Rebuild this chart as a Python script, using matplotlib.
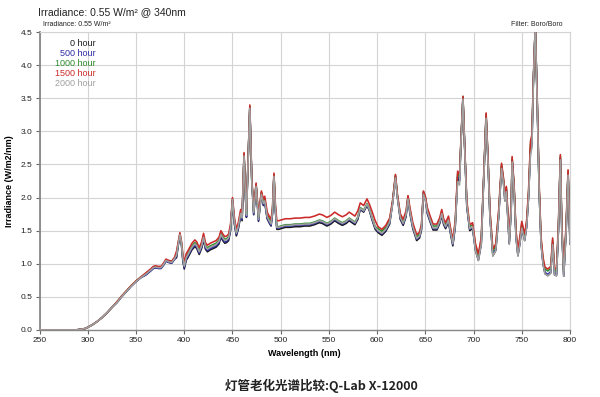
import matplotlib
matplotlib.use("Agg")
import matplotlib.pyplot as plt
import numpy as np

wavelength = [250, 260, 270, 280, 288, 293, 297, 300, 305, 310, 315, 320, 325,
              330, 335, 340, 345, 350, 355,
              360, 365, 368, 370, 373, 376, 379, 381, 384, 387, 390,
              392, 394, 395.5, 397, 398.5, 400, 402, 404, 408, 411, 413, 415.5, 418, 420, 422, 424, 427, 430,
              433, 436, 438, 440, 442, 444, 446, 448, 450, 452, 454, 456, 458.5, 460,
              462, 463.5, 464.5, 466, 468, 470, 472, 474.5, 477, 480, 482, 483.5, 486, 488, 490, 491.5, 493, 494.5,
              496, 498, 500, 505, 510, 515, 520, 525, 530, 535, 540, 543, 548, 552, 556, 560, 564, 568, 571, 574,
              577, 580, 582.5, 586, 589.5, 592, 595, 598,
              601, 605, 609, 613, 616, 619, 621, 624, 627, 630, 632, 634, 637, 641, 644, 646, 648, 650, 652, 655,
              658, 662, 665, 667, 669, 671, 674, 676, 678.5, 681, 683.5, 685.5, 687, 689, 691, 693, 696, 699,
              702, 705, 708, 711, 713, 715, 717, 720, 723, 726, 729, 731, 732.5, 734, 735.5, 737, 739, 740, 742,
              744, 746, 748, 750, 753, 755, 757, 759, 760.5, 762, 764, 766, 768, 770, 772, 774, 777, 780, 782,
              784, 786, 788, 790, 791.5, 793.5, 796, 798, 799, 800]

hour_1500 = [0, 0, 0, 0, 0, 0.01, 0.02, 0.04, 0.08, 0.13, 0.19, 0.26, 0.34,
             0.42, 0.51, 0.59, 0.67, 0.74, 0.80,
             0.86, 0.92, 0.96, 0.97, 0.96, 0.96, 1.02, 1.07, 1.05, 1.04, 1.10,
             1.19, 1.35, 1.47, 1.35, 1.15, 1.02, 1.15, 1.20, 1.31, 1.36, 1.33, 1.24, 1.33, 1.46, 1.32, 1.28, 1.31, 1.33,
             1.35, 1.40, 1.50, 1.45, 1.41, 1.42, 1.45, 1.60, 2.00, 1.70, 1.52, 1.62, 1.82, 1.75,
             2.68, 2.10, 1.80, 2.50, 3.40, 2.30, 1.84, 2.22, 1.74, 2.10, 1.98, 2.02, 1.78, 1.72, 1.67, 1.85, 2.37, 1.90,
             1.65, 1.65, 1.66, 1.68, 1.68, 1.69, 1.69, 1.70, 1.70, 1.72, 1.75, 1.74, 1.70, 1.73, 1.78, 1.74, 1.71, 1.74, 1.78, 1.75,
             1.72, 1.80, 1.92, 1.88, 1.98, 1.90, 1.78, 1.65,
             1.56, 1.52, 1.58, 1.69, 1.95, 2.35, 2.05, 1.76, 1.67, 1.80, 2.03, 1.85, 1.62, 1.44, 1.48, 1.60, 2.10, 2.02, 1.85, 1.72,
             1.60, 1.60, 1.70, 1.82, 1.68, 1.62, 1.72, 1.55, 1.36, 1.65, 2.40, 2.35, 2.90, 3.53, 2.70, 1.95, 1.59, 1.62,
             1.30, 1.15, 1.40, 2.50, 3.28, 2.60, 1.80, 1.22, 1.30, 1.80, 2.52, 2.30, 2.05, 2.17, 1.80, 1.40, 1.90, 2.62, 2.20,
             1.50, 1.22, 1.40, 1.64, 1.45, 1.65, 2.10, 2.85, 2.95, 3.80, 4.60, 3.50, 2.20, 1.40, 1.10, 0.95, 0.92, 0.96, 1.39,
             0.93, 0.92, 1.60, 2.65, 1.60, 0.91, 1.60, 2.42, 1.90, 1.40]

hour_0 = [0, 0, 0, 0, 0, 0.01, 0.02, 0.04, 0.08, 0.13, 0.19, 0.26, 0.34,
          0.41, 0.50, 0.58, 0.66, 0.73, 0.79,
          0.83, 0.89, 0.93, 0.94, 0.93, 0.93, 0.99, 1.04, 1.02, 1.01, 1.07,
          1.09, 1.30, 1.42, 1.30, 1.05, 0.92, 1.05, 1.10, 1.21, 1.26, 1.23, 1.14, 1.23, 1.36, 1.22, 1.18, 1.21, 1.23,
          1.25, 1.30, 1.40, 1.35, 1.31, 1.32, 1.35, 1.50, 1.95, 1.60, 1.42, 1.52, 1.72, 1.65,
          2.64, 2.00, 1.70, 2.46, 3.36, 2.26, 1.74, 2.18, 1.64, 2.06, 1.88, 1.92, 1.68, 1.62, 1.57, 1.75, 2.33, 1.80,
          1.52, 1.52, 1.53, 1.55, 1.55, 1.56, 1.56, 1.57, 1.57, 1.59, 1.62, 1.61, 1.57, 1.60, 1.65, 1.61, 1.58, 1.61, 1.65, 1.62,
          1.59, 1.67, 1.82, 1.78, 1.88, 1.80, 1.65, 1.52,
          1.47, 1.43, 1.49, 1.60, 1.91, 2.31, 2.01, 1.67, 1.58, 1.71, 1.99, 1.76, 1.53, 1.35, 1.39, 1.51, 2.06, 1.98, 1.76, 1.63,
          1.51, 1.51, 1.61, 1.73, 1.59, 1.53, 1.63, 1.46, 1.27, 1.56, 2.30, 2.25, 2.86, 3.50, 2.66, 1.86, 1.50, 1.53,
          1.20, 1.05, 1.30, 2.44, 3.22, 2.54, 1.70, 1.12, 1.20, 1.70, 2.46, 2.24, 1.95, 2.11, 1.70, 1.30, 1.80, 2.56, 2.14,
          1.40, 1.12, 1.30, 1.54, 1.35, 1.55, 2.00, 2.70, 2.80, 3.74, 4.60, 3.44, 2.10, 1.30, 1.00, 0.85, 0.82, 0.86, 1.29,
          0.83, 0.82, 1.50, 2.59, 1.50, 0.81, 1.50, 2.36, 1.80, 1.30]

hour_500 = [0, 0, 0, 0, 0, 0.01, 0.02, 0.04, 0.08, 0.13, 0.19, 0.26, 0.34,
            0.41, 0.50, 0.58, 0.66, 0.73, 0.79,
            0.83, 0.89, 0.93, 0.94, 0.93, 0.93, 0.99, 1.04, 1.02, 1.01, 1.07,
            1.11, 1.31, 1.43, 1.31, 1.07, 0.94, 1.07, 1.12, 1.23, 1.28, 1.25, 1.16, 1.25, 1.38, 1.24, 1.20, 1.23, 1.25,
            1.27, 1.32, 1.42, 1.37, 1.33, 1.34, 1.37, 1.52, 1.96, 1.62, 1.44, 1.54, 1.74, 1.67,
            2.65, 2.01, 1.71, 2.47, 3.37, 2.27, 1.75, 2.19, 1.65, 2.07, 1.89, 1.93, 1.69, 1.63, 1.58, 1.76, 2.34, 1.81,
            1.54, 1.54, 1.55, 1.57, 1.57, 1.58, 1.58, 1.59, 1.59, 1.61, 1.64, 1.63, 1.59, 1.62, 1.67, 1.63, 1.60, 1.63, 1.67, 1.64,
            1.61, 1.69, 1.83, 1.79, 1.89, 1.81, 1.67, 1.54,
            1.49, 1.45, 1.51, 1.62, 1.92, 2.32, 2.02, 1.69, 1.60, 1.73, 2.00, 1.78, 1.55, 1.37, 1.41, 1.53, 2.07, 1.99, 1.78, 1.65,
            1.53, 1.53, 1.63, 1.75, 1.61, 1.55, 1.65, 1.48, 1.29, 1.58, 2.32, 2.27, 2.87, 3.51, 2.67, 1.88, 1.52, 1.55,
            1.22, 1.07, 1.32, 2.45, 3.23, 2.55, 1.72, 1.14, 1.22, 1.72, 2.47, 2.25, 1.97, 2.12, 1.72, 1.32, 1.82, 2.57, 2.15,
            1.42, 1.14, 1.32, 1.56, 1.37, 1.57, 2.02, 2.73, 2.83, 3.75, 4.60, 3.45, 2.12, 1.32, 1.02, 0.87, 0.84, 0.88, 1.31,
            0.85, 0.84, 1.52, 2.60, 1.52, 0.83, 1.52, 2.37, 1.82, 1.32]

hour_1000 = [0, 0, 0, 0, 0, 0.01, 0.02, 0.04, 0.08, 0.13, 0.19, 0.26, 0.34,
             0.42, 0.51, 0.59, 0.67, 0.74, 0.80,
             0.85, 0.91, 0.95, 0.96, 0.95, 0.95, 1.01, 1.06, 1.04, 1.03, 1.09,
             1.15, 1.33, 1.45, 1.33, 1.11, 0.98, 1.11, 1.16, 1.27, 1.32, 1.29, 1.20, 1.29, 1.42, 1.28, 1.24, 1.27, 1.29,
             1.31, 1.36, 1.46, 1.41, 1.37, 1.38, 1.41, 1.56, 1.98, 1.66, 1.48, 1.58, 1.78, 1.71,
             2.66, 2.06, 1.76, 2.48, 3.38, 2.28, 1.80, 2.20, 1.70, 2.08, 1.94, 1.98, 1.74, 1.68, 1.63, 1.81, 2.35, 1.86,
             1.56, 1.56, 1.57, 1.59, 1.59, 1.60, 1.60, 1.61, 1.61, 1.63, 1.66, 1.65, 1.61, 1.64, 1.69, 1.65, 1.62, 1.65, 1.69, 1.66,
             1.63, 1.71, 1.85, 1.81, 1.91, 1.83, 1.69, 1.56,
             1.53, 1.49, 1.55, 1.66, 1.94, 2.34, 2.04, 1.73, 1.64, 1.77, 2.02, 1.82, 1.59, 1.41, 1.45, 1.57, 2.09, 2.01, 1.82, 1.69,
             1.57, 1.57, 1.67, 1.79, 1.65, 1.59, 1.69, 1.52, 1.33, 1.62, 2.37, 2.32, 2.89, 3.53, 2.69, 1.92, 1.56, 1.59,
             1.27, 1.12, 1.37, 2.48, 3.26, 2.58, 1.77, 1.19, 1.27, 1.77, 2.50, 2.28, 2.02, 2.15, 1.77, 1.37, 1.87, 2.60, 2.18,
             1.47, 1.19, 1.37, 1.61, 1.42, 1.62, 2.07, 2.80, 2.90, 3.78, 4.60, 3.48, 2.17, 1.37, 1.07, 0.92, 0.89, 0.93, 1.36,
             0.90, 0.89, 1.57, 2.63, 1.57, 0.88, 1.57, 2.40, 1.87, 1.37]

hour_2000 = [0, 0, 0, 0, 0, 0.01, 0.02, 0.04, 0.08, 0.13, 0.19, 0.26, 0.34,
             0.41, 0.50, 0.58, 0.66, 0.73, 0.79,
             0.84, 0.90, 0.94, 0.95, 0.94, 0.94, 1.00, 1.05, 1.03, 1.02, 1.08,
             1.13, 1.32, 1.44, 1.32, 1.09, 0.96, 1.09, 1.14, 1.25, 1.30, 1.27, 1.18, 1.27, 1.40, 1.26, 1.22, 1.25, 1.27,
             1.29, 1.34, 1.44, 1.39, 1.35, 1.36, 1.39, 1.54, 1.97, 1.64, 1.46, 1.56, 1.76, 1.69,
             2.63, 2.03, 1.73, 2.45, 3.35, 2.25, 1.77, 2.17, 1.67, 2.05, 1.91, 1.95, 1.71, 1.65, 1.60, 1.78, 2.32, 1.83,
             1.55, 1.55, 1.56, 1.58, 1.58, 1.59, 1.59, 1.60, 1.60, 1.62, 1.65, 1.64, 1.60, 1.63, 1.68, 1.64, 1.61, 1.64, 1.68, 1.65,
             1.62, 1.70, 1.84, 1.80, 1.90, 1.82, 1.68, 1.55,
             1.50, 1.46, 1.52, 1.63, 1.90, 2.30, 2.00, 1.70, 1.61, 1.74, 1.98, 1.79, 1.56, 1.38, 1.42, 1.54, 2.05, 1.97, 1.79, 1.66,
             1.54, 1.54, 1.64, 1.76, 1.62, 1.56, 1.66, 1.49, 1.30, 1.59, 2.24, 2.19, 2.86, 3.49, 2.65, 1.89, 1.53, 1.56,
             1.20, 1.05, 1.30, 2.42, 3.20, 2.52, 1.70, 1.12, 1.20, 1.70, 2.44, 2.22, 1.95, 2.09, 1.70, 1.30, 1.80, 2.54, 2.12,
             1.40, 1.12, 1.30, 1.54, 1.35, 1.55, 2.00, 2.65, 2.75, 3.72, 4.60, 3.42, 2.10, 1.30, 1.00, 0.85, 0.82, 0.86, 1.29,
             0.83, 0.82, 1.50, 2.57, 1.50, 0.81, 1.50, 2.34, 1.80, 1.30]

series_labels = ["0 hour", "500 hour", "1000 hour", "1500 hour", "2000 hour"]
series_colors = ["#1a1a1a", "#2b2ba8", "#2e8b2e", "#cc2a2a", "#a0a0a0"]
x_ticks = list(range(250, 801, 50))
y_ticks = [0.0, 0.5, 1.0, 1.5, 2.0, 2.5, 3.0, 3.5, 4.0, 4.5]

plt.rcParams['font.family'] = ['Liberation Sans', 'Noto Sans CJK SC', 'DejaVu Sans']

fig = plt.figure(figsize=(6.0, 3.97), dpi=100)
ax = fig.add_axes([0.066, 0.169, 0.884, 0.750])

series = [hour_0, hour_500, hour_1000, hour_1500, hour_2000]
draw_order = [4, 0, 1, 2, 3]
for i in draw_order:
    ax.plot(wavelength, series[i], color=series_colors[i], lw=1.15, zorder=3 + i * 0.1,
            solid_joinstyle='round')

ax.set_xlim(250, 800)
ax.set_ylim(0, 4.5)
ax.set_xticks(x_ticks)
ax.set_yticks(y_ticks)
ax.set_yticklabels([f"{v:.1f}" for v in y_ticks])
ax.tick_params(axis='both', labelsize=6, length=3, width=0.8, color='#666666', labelcolor='#222222', pad=2)
ax.grid(True, color='#d4d4d4', lw=0.8)
ax.set_axisbelow(True)
for side in ['top', 'right']:
    ax.spines[side].set_color('#d4d4d4')
    ax.spines[side].set_linewidth(0.8)
ax.spines['left'].set_color('#888888')
ax.spines['left'].set_linewidth(1.3)
ax.spines['bottom'].set_color('#888888')
ax.spines['bottom'].set_linewidth(1.0)

ax.set_xlabel("Wavelength (nm)", fontsize=6.5, fontweight='bold', labelpad=4)
ax.set_ylabel("Irradiance (W/m2/nm)", fontsize=6.5, fontweight='bold', labelpad=5)

# legend as coloured text
for k, (lab, col) in enumerate(zip(series_labels, series_colors)):
    fig.text(96 / 600, 1 - (43 + k * 10) / 397, lab, color=col, fontsize=6.5,
             ha='right', va='center')

fig.text(38 / 600, 1 - 12 / 397, "Irradiance: 0.55 W/m² @ 340nm", fontsize=7.5,
         ha='left', va='center', color='#222222')
fig.text(43 / 600, 1 - 24.5 / 397, "Irradiance: 0.55 W/m²", fontsize=5,
         ha='left', va='center', color='#222222')
fig.text(563 / 600, 1 - 24.5 / 397, "Filter: Boro/Boro", fontsize=5,
         ha='right', va='center', color='#222222')
fig.text(0.535, 1 - 386 / 397, "灯管老化光谱比较:Q-Lab X-12000", fontsize=9,
         fontweight='bold', ha='center', va='center', color='#222222',
         family=['Noto Sans CJK SC', 'DejaVu Sans'])

fig.savefig("out.png", dpi=100, facecolor='white')
